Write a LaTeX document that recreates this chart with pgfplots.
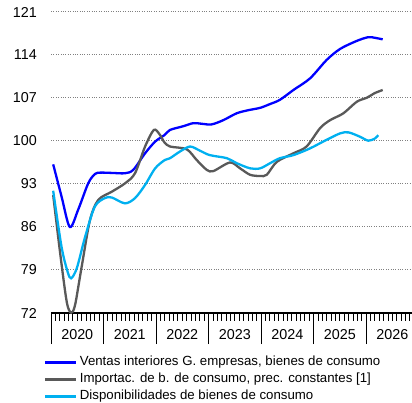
\documentclass[border=0pt]{standalone}
\usepackage{pgfplots}
\pgfplotsset{compat=1.18}
\usepackage{fontspec}
\setmainfont{Liberation Sans}

\definecolor{cVentas}{RGB}{0,0,255}
\definecolor{cImport}{RGB}{89,89,89}
\definecolor{cDispon}{RGB}{0,176,240}

\begin{document}
\begin{tikzpicture}
\begin{axis}[
    name=ax,
    scale only axis,
    width=361bp, height=301bp,
    xmin=0, xmax=82.5,
    ymin=72, ymax=121,
    axis x line=bottom, axis y line=left,
    axis line style={-},
    x axis line style={line width=1.1bp, black},
    y axis line style={draw=none},
    ytick={72,79,...,121},
    ytick style={draw=none},
    yticklabel style={inner sep=0pt, anchor=east, xshift=-6bp, font=\fontsize{14.4}{16}\selectfont},
    ymajorgrids,
    grid style={dotted, line width=1bp, black!50},
    tick align=outside,
    % monthly ticks; year names sit on the July tick (mid-year)
    xtick={0,1,...,82},
    xticklabels={,,,,,,2020,,,,,,,,,,,,2021,,,,,,,,,,,,2022,,,,,,,,,,,,2023,,,,,,,,,,,,2024,,,,,,,,,,,,2025,,,,,,,,,,,,2026},
    major tick length=8bp,
    xtick style={line width=0.8bp, black},
    % long year separators
    extra x ticks={0,12,...,72},
    extra x tick labels={},
    extra x tick style={major tick length=31bp, xmajorgrids=false},
    xticklabel style={inner sep=0pt, anchor=north, yshift=-8bp, font=\fontsize{14.4}{16}\selectfont},
    /pgf/number format/assume math mode=true,
    clip=false,
    legend style={at={(axis description cs:0,0)}, anchor=north west,
        xshift=-7bp, yshift=-43.5bp,
        draw=none, fill=none, inner sep=0pt, outer sep=0pt,
        row sep=5bp,
        nodes={inner sep=0pt, anchor=west, text height=9bp, text depth=3bp},
        font=\fontsize{13.3}{15}\selectfont,
        /tikz/every odd column/.style={column sep=2.5bp}},
    legend cell align=left,
    legend image code/.code={\draw[#1, line width=2.4bp] (0bp,0bp) -- (31bp,0bp);},
    every axis plot/.append style={line width=2.3bp, smooth, tension=0.5},
]

% Ventas interiores G. empresas, bienes de consumo
\addplot[cVentas] coordinates {
    (0.5,96.2) (2.4,91.0) (4.3,86.0) (6.2,88.8) (8.5,93.1) (10,94.6)
    (11.2,94.85) (14,94.8) (16.9,94.75) (18.8,95.3) (21.5,98.0) (23.8,99.9)
    (26,101.0) (27.2,101.8) (30.2,102.4) (32.5,102.9) (34.5,102.8) (36.7,102.7)
    (39.4,103.4) (42.4,104.5) (45,105.0) (47.8,105.4) (50,106.0) (52.3,106.7)
    (55.4,108.3) (59.2,110.2) (63,113.2) (66.1,115.0) (69.9,116.3) (72.5,116.9)
    (74,116.8) (75.8,116.55)
};
\addlegendentry{Ventas interiores G. empresas, bienes de consumo}

% Importac. de b. de consumo, prec. constantes [1]
\addplot[cImport] coordinates {
    (0.5,91.2) (2.1,81.7) (3.6,73.8) (4.6,72.05) (5.5,73.3) (7,79.5)
    (8.9,87.1) (10.8,90.4) (13.9,91.75) (16.9,93.1) (19.2,94.75) (21.5,99.1)
    (23.5,101.8) (24.8,101.1) (25.9,99.8) (27.2,99.1) (31,98.65) (33.3,96.9)
    (35.6,95.3) (37.1,95.1) (40.9,96.5) (43.2,95.55) (45.5,94.5) (47.8,94.3)
    (49.3,94.5) (51.6,96.6) (55.4,98.0) (58.4,99.1) (61.5,102.1) (63.8,103.4)
    (66.8,104.5) (69.9,106.4) (72.2,107.05) (74,107.8) (75.8,108.3)
};
\addlegendentry{Importac. de b. de consumo, prec. constantes [1]}

% Disponibilidades de bienes de consumo
\addplot[cDispon] coordinates {
    (0.5,91.9) (2.4,82.8) (3.8,78.7) (4.6,77.65) (5.9,79.3) (7.8,84.4)
    (10,89.3) (12.3,90.7) (13.9,90.8) (16.9,89.85) (19.2,90.7) (21.5,92.85)
    (23.8,95.55) (26,96.9) (27.2,97.2) (29.5,98.3) (31.8,99.1) (34.1,98.4)
    (36.3,97.7) (40.2,97.2) (42.4,96.4) (45.5,95.55) (47.8,95.55) (50.1,96.4)
    (52.3,97.2) (55.4,97.7) (59.2,98.8) (63,100.2) (66.1,101.25) (68,101.4)
    (70.6,100.7) (72.5,100.05) (74,100.4) (74.8,100.95)
};
\addlegendentry{Disponibilidades de bienes de consumo}

\end{axis}
\pgfresetboundingbox
\path[use as bounding box] ([shift={(-51bp,-90bp)}]ax.south west) rectangle ([shift={(0bp,12bp)}]ax.north east);
\end{tikzpicture}
\end{document}
